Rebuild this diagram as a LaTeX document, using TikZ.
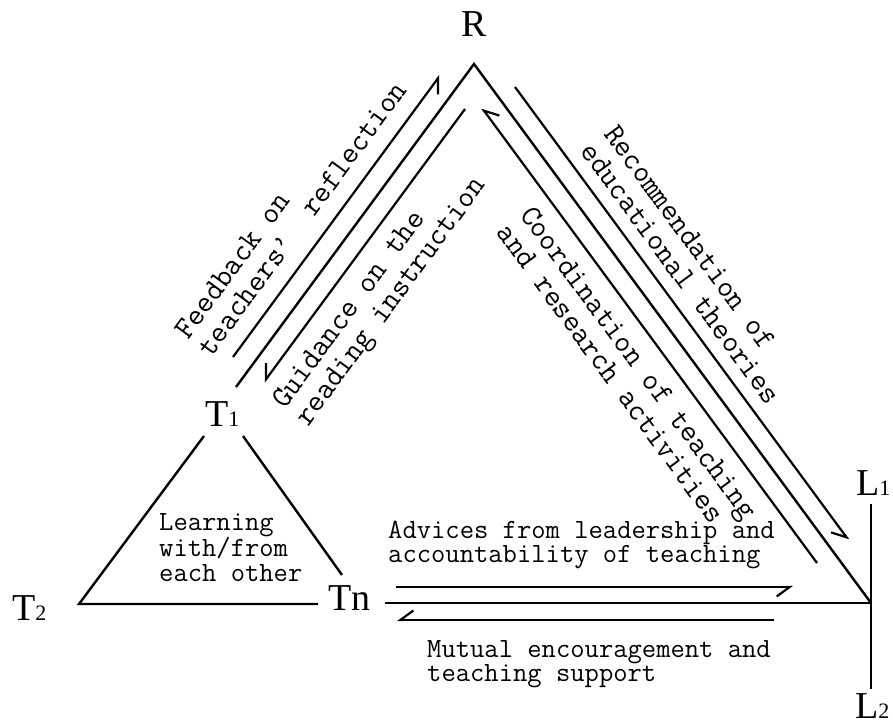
\documentclass[tikz,border=0pt]{standalone}
\usepackage{fontspec}
\setmainfont{Liberation Serif}
\usetikzlibrary{arrows.meta}

% small index digit sitting on the baseline (T1, L2, ...)
\newcommand\idx[1]{{\fontsize{22}{22}\selectfont #1}}
% left-aligned block of rows whose baseline is that of the first row
\newcommand\textrows[1]{\vtop{\halign{##\hfil\cr#1\crcr}}}

\tikzset{
  edge/.style={line width=2.4pt},
  flow/.style={line width=2.2pt, -{Straight Barb[right,length=13pt,width=19pt]}},
  lbl/.style={inner sep=0pt, font=\fontsize{38}{40}\selectfont},
  note/.style={inner sep=0pt, font=\ttfamily\fontsize{27.8}{24.5}\selectfont},
  snote/.style={inner sep=0pt, font=\ttfamily\fontsize{30.7}{29}\selectfont},
}

\begin{document}
\begin{tikzpicture}[x=1pt,y=-1pt]
\useasboundingbox (0,0) rectangle (893,725);

% vertices of the large triangle
\coordinate (apex)    at (474,64);
\coordinate (corner)  at (871,603);
\coordinate (leftend) at (236,387);
\coordinate (baseend) at (385,603);
\coordinate (L1top)   at (871,504);
\coordinate (L2bot)   at (871,689);

% vertices of the small teachers' triangle
\coordinate (t1l) at (204,436);
\coordinate (t1r) at (243,436);
\coordinate (t2c) at (79,604);
\coordinate (tnu) at (342,575);
\coordinate (tnl) at (318,604);

% end points of the flows
\coordinate (fbA) at (233,357);   \coordinate (fbB) at (440,75.5);
\coordinate (gdA) at (465,109);   \coordinate (gdB) at (264,382);
\coordinate (rcA) at (515,87);    \coordinate (rcB) at (848.5,540);
\coordinate (coA) at (817,563);   \coordinate (coB) at (482,108);
\coordinate (adA) at (396,587);   \coordinate (adB) at (793,587);
\coordinate (muA) at (774,620);   \coordinate (muB) at (397,620);

% role labels
\node[lbl, anchor=base] (R) at (474,37) {R};
\node[lbl, anchor=base west] (T1) at (205,426) {T\idx{1}};
\node[lbl, anchor=base west] (T2) at (12,620) {T\idx{2}};
\node[lbl, anchor=base west] (Tn) at (328,610) {Tn};
\node[lbl, anchor=base west] (L1) at (856,495) {L\idx{1}};
\node[lbl, anchor=base west] (L2) at (855,718) {L\idx{2}};

% triangle sides
\draw[edge] (leftend) -- (apex) -- (corner);
\draw[edge] (baseend) -- (corner);
\draw[edge] (L1top) -- (L2bot);
\draw[edge] (t1l) -- (t2c) -- (tnl);
\draw[edge] (t1r) -- (tnu);

% flows between the roles
\draw[flow] (fbA) -- (fbB);
\draw[flow] (gdA) -- (gdB);
\draw[flow] (rcA) -- (rcB);
\draw[flow] (coA) -- (coB);
\draw[flow] (adA) -- (adB);
\draw[flow] (muA) -- (muB);

% flow descriptions
\node[snote, rotate=53.7, anchor=base west] (fb) at (188,341)
  {\textrows{Feedback on\cr teachers’\ \ reflection}};
\node[snote, rotate=53.7, anchor=base west] (gd) at (285,410)
  {\textrows{Guidance on the\cr reading instruction}};
\node[snote, rotate=-53.7, anchor=base west] (rc) at (603,134)
  {\textrows{Recommendation of\cr educational theories}};
\node[snote, rotate=-53.7, anchor=base west] (co) at (519,215)
  {\textrows{Coordination of teaching\cr and research activities}};
\node[note, anchor=base west] (lw) at (159,530)
  {\textrows{Learning\cr with/from\cr each other}};
\node[note, anchor=base west] (ad) at (388,538)
  {\textrows{Advices from leadership and\cr accountability of teaching}};
\node[note, anchor=base west] (mu) at (427,657)
  {\textrows{Mutual encouragement and\cr teaching support}};
\end{tikzpicture}
\end{document}
